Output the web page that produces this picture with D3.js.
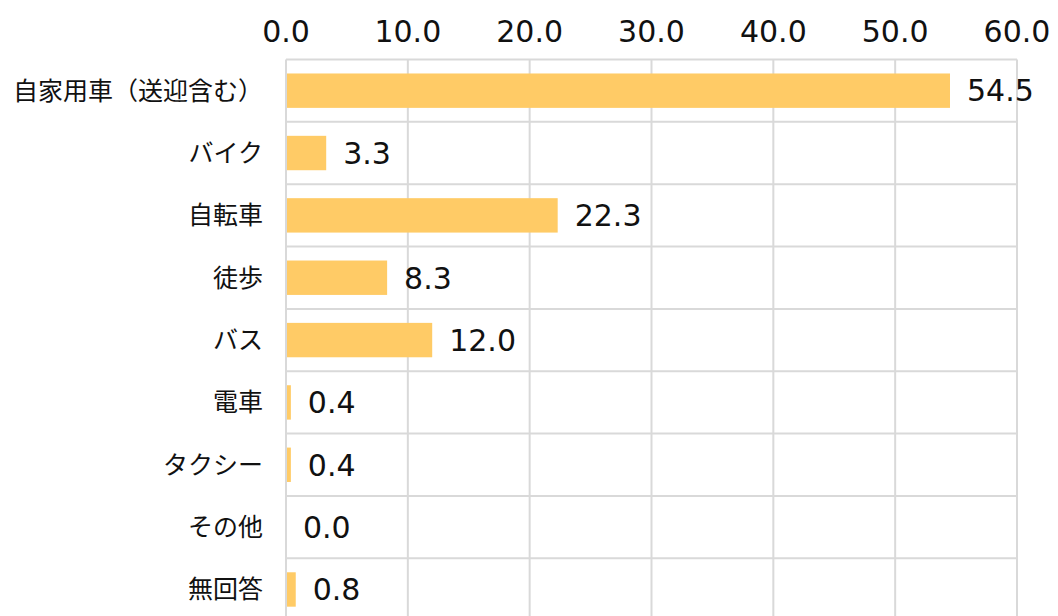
<!DOCTYPE html>
<html>
<head>
<meta charset="utf-8">
<script src="https://cdn.jsdelivr.net/npm/d3@7"></script>
<style>
  body { margin: 0; background: #fff; }
  text { font-family: "Noto Sans CJK JP", "Noto Sans", sans-serif; fill: #111; }
  text.num { font-family: "DejaVu Sans", sans-serif; }
</style>
</head>
<body>
<div id="chart"></div>
<script>
const categories = ["自家用車（送迎含む）", "バイク", "自転車", "徒歩", "バス", "電車", "タクシー", "その他", "無回答"];
const values = [54.5, 3.3, 22.3, 8.3, 12.0, 0.4, 0.4, 0.0, 0.8];
const ticks = [0, 10, 20, 30, 40, 50, 60];

function draw(width = 1058, height = 616) {
  const margin = ({top: 59.5, left: 286, right: 41});
  const step = 62.35;

  const svg = d3.select("#chart").append("svg")
    .attr("width", width)
    .attr("height", height);

  const x = d3.scaleLinear()
    .domain([0, 60])
    .range([margin.left, width - margin.right]);

  const y = d3.scaleBand()
    .domain(categories)
    .range([margin.top, margin.top + step * categories.length])
    .paddingInner(0)
    .paddingOuter(0);

  const grid = svg.append("g").attr("stroke", "#d9d9d9").attr("stroke-width", 2);
  // vertical grid lines
  grid.selectAll("line.v").data(ticks).enter().append("line")
    .attr("x1", d => x(d)).attr("x2", d => x(d))
    .attr("y1", margin.top).attr("y2", height);
  // horizontal lines between rows
  grid.selectAll("line.h").data(categories).enter().append("line")
    .attr("x1", x(0)).attr("x2", x(60))
    .attr("y1", d => y(d)).attr("y2", d => y(d));

  // bars
  const barH = 34.4;
  svg.append("g").selectAll("rect")
    .data(values)
    .enter().append("rect")
    .attr("x", x(0) + 1)
    .attr("y", (d, i) => y(categories[i]) + (y.bandwidth() - barH) / 2)
    .attr("width", d => Math.max(0, x(d) - x(0) - 1))
    .attr("height", barH)
    .attr("fill", "#ffcb66");

  // value labels
  svg.append("g").selectAll("text")
    .data(values)
    .enter().append("text")
    .attr("class", "num")
    .attr("x", d => x(d) + 17)
    .attr("y", (d, i) => y(categories[i]) + y.bandwidth() / 2)
    .attr("dy", "0.36em")
    .attr("font-size", 30)
    .text(d => d.toFixed(1));

  // category labels
  svg.append("g").selectAll("text")
    .data(categories)
    .enter().append("text")
    .attr("x", 263)
    .attr("y", d => y(d) + y.bandwidth() / 2)
    .attr("dy", "0.36em")
    .attr("text-anchor", "end")
    .attr("font-size", 25)
    .text(d => d);

  // top axis labels
  svg.append("g").selectAll("text")
    .data(ticks)
    .enter().append("text")
    .attr("class", "num")
    .attr("x", d => x(d))
    .attr("y", 31)
    .attr("dy", "0.36em")
    .attr("text-anchor", "middle")
    .attr("font-size", 30)
    .text(d => d.toFixed(1));

  return svg.node();
}
draw();
</script>
</body>
</html>
